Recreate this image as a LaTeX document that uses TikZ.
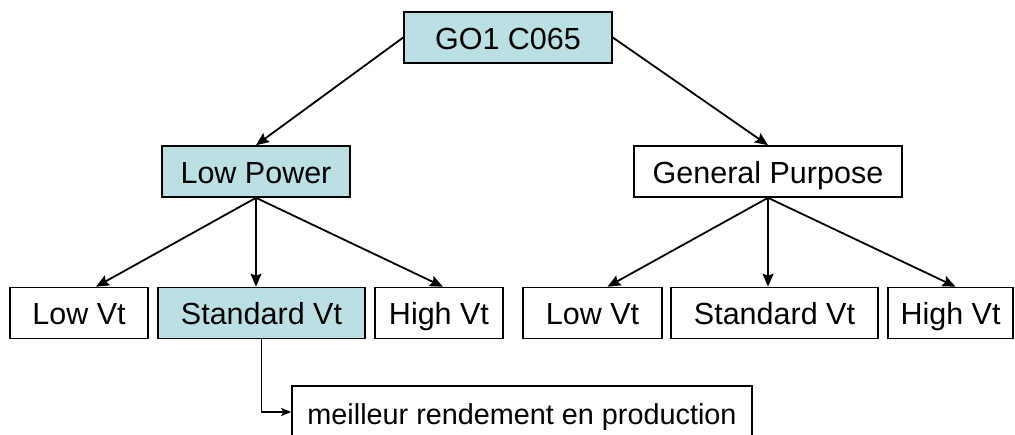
\documentclass[tikz,border=0pt]{standalone}
\usepackage{fontspec}
\setmainfont{Liberation Sans}
\usetikzlibrary{arrows.meta}
\definecolor{boxblue}{RGB}{187,224,227}
\begin{document}
\begin{tikzpicture}[x=1pt,y=-1pt,
  box/.style={draw=black,line width=1.6pt,fill=white,inner sep=0pt,minimum height=51pt,text height=25pt,text depth=2pt,font=\fontsize{30.5}{34}\selectfont},
  hl/.style={box,fill=boxblue},
  conn/.style={line width=1.8pt,-{Stealth[length=13pt,width=11pt,inset=2pt]}}]
\useasboundingbox (0,0) rectangle (1015,434);
\node[hl,minimum width=208pt] (top) at (508,37.5) {GO1 C065};
\node[hl,minimum width=188pt] (lp) at (256,171.5) {Low Power};
\node[box,minimum width=268pt] (gp) at (768,171.5) {General Purpose};
\node[box,minimum width=138pt] (lv1) at (79,313) {Low Vt};
\node[hl,minimum width=207pt] (sv1) at (261.5,313) {Standard Vt};
\node[box,minimum width=128pt] (hv1) at (439,313) {High Vt};
\node[box,minimum width=139pt] (lv2) at (592.5,313) {Low Vt};
\node[box,minimum width=207pt] (sv2) at (774.5,313) {Standard Vt};
\node[box,minimum width=125pt] (hv2) at (950.5,313) {High Vt};
\node[box,minimum width=460pt,minimum height=56pt,text height=22pt,text depth=2pt,font=\fontsize{28.8}{32}\selectfont] (mr) at (522,414) {meilleur rendement en production};
\draw[conn] (top.west) -- (lp.north);
\draw[conn] (top.east) -- (gp.north);
\draw[conn] (lp.south) -- ([xshift=17pt]lv1.north);
\draw[conn] (lp.south) -- (lp.south |- sv1.north);
\draw[conn] (lp.south) -- ([xshift=4pt]hv1.north);
\draw[conn] (gp.south) -- ([xshift=15pt]lv2.north);
\draw[conn] (gp.south) -- (gp.south |- sv2.north);
\draw[conn] (gp.south) -- ([xshift=5pt]hv2.north);
\draw[line width=1.8pt,-{Stealth[length=10pt,width=8pt,inset=2pt]}] (sv1.south) |- (mr.west |- 0,412);
\end{tikzpicture}
\end{document}
